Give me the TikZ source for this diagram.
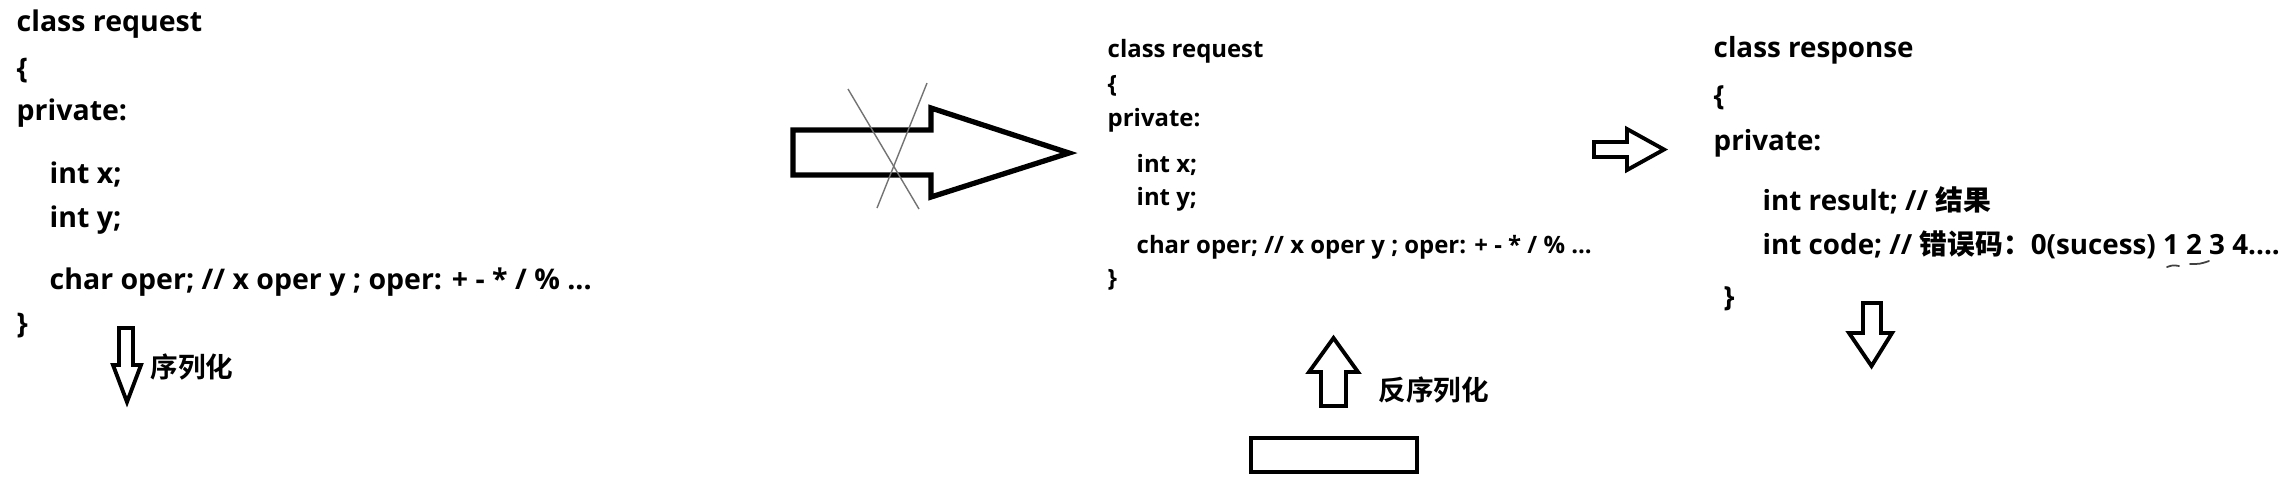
\documentclass[tikz,border=0pt]{standalone}
\usepackage{fontspec}
\setmainfont{Open Sans}
\newfontfamily\cjk{Noto Sans CJK SC Bold}
\tikzset{
  codebig/.style={anchor=base west, inner sep=0pt,
    font=\fontsize{8.1pt}{9pt}\selectfont\bfseries},
  coderight/.style={anchor=base west, inner sep=0pt,
    font=\fontsize{7.9pt}{9pt}\selectfont\bfseries},
  codesmall/.style={anchor=base west, inner sep=0pt,
    font=\fontsize{6.8pt}{8pt}\selectfont\bfseries},
  cnlabel/.style={anchor=west, inner sep=0pt,
    font=\cjk\fontsize{7.85pt}{9pt}\selectfont},
  blockarr/.style={draw=black, line width=1.1pt, line join=miter, fill=white},
  bigarr/.style={draw=black, line width=1.5pt, line join=miter, fill=white},
  strike/.style={draw=black!55, line width=0.4pt},
  scribble/.style={draw=black!75, line width=0.5pt, line cap=round},
}
\begin{document}
\begin{tikzpicture}[x=0.01cm, y=-0.01cm]
  \useasboundingbox (0,0) rectangle (2292,490);
  % request, as written
  \foreach \nm/\xx/\yy/\txt in {
    reqA/16/31/{class request},
    lbrA/16/78/{\{},
    privA/16/120/{private:},
    fxA/49/183/{int x;},
    fyA/49/227/{int y;},
    opA/49/289/{char oper; // x oper y ; oper: + - * / \% ...},
    rbrA/16/333/{\}}}
    \node[codebig] (\nm) at (\xx,\yy) {\txt};
  \draw[blockarr] (119,328) -- (133,328) -- (133,365) -- (141,365)
    -- (127,402) -- (113,365) -- (119,365) -- cycle;
  \node[cnlabel] (ser) at (150,367) {序列化};
  % crossed-out arrow
  \draw[bigarr] (793,130) -- (931,130) -- (931,108) -- (1069,153)
    -- (931,197) -- (931,175) -- (793,175) -- cycle;
  \draw[strike] (848,89) -- (919,209);
  \draw[strike] (927,83) -- (877,208);
  % request, received
  \foreach \nm/\xx/\yy/\txt in {
    reqB/1107/57/{class request},
    lbrB/1107/92/{\{},
    privB/1107/126/{private:},
    fxB/1136/172/{int x;},
    fyB/1136/205/{int y;},
    opB/1136/253/{char oper; // x oper y ; oper: + - * / \% ...},
    rbrB/1107/286/{\}}}
    \node[codesmall] (\nm) at (\xx,\yy) {\txt};
  \draw[blockarr] (1321,406) -- (1346,406) -- (1346,372) -- (1358,372)
    -- (1333.5,338) -- (1309,372) -- (1321,372) -- cycle;
  \node[cnlabel] (deser) at (1378,390) {反序列化};
  \node[draw=black, line width=1.3pt, inner sep=0pt, minimum width=1.66cm,
        minimum height=0.34cm] (buf) at (1334,455) {};
  % response
  \draw[blockarr] (1594,142) -- (1627,142) -- (1627,129) -- (1664,149.5)
    -- (1627,170) -- (1627,157) -- (1594,157) -- cycle;
  \foreach \nm/\xx/\yy/\txt in {
    resC/1713/57/{class response},
    lbrC/1713/105/{\{},
    privC/1713/150/{private:},
    resltC/1762/210/{int result; // {\cjk 结果}},
    codeC/1762/254/{int code; // {\cjk 错误码：}0(sucess) 1 2 3 4....},
    rbrC/1723/306/{\}}}
    \node[coderight] (\nm) at (\xx,\yy) {\txt};
  \draw[scribble] (2167,267) .. controls (2173,265) .. (2179,266);
  \draw[scribble] (2190,264) .. controls (2200,264) .. (2209,261);
  \draw[blockarr] (1863,303) -- (1881,303) -- (1881,333) -- (1892,333)
    -- (1871.5,366) -- (1849,333) -- (1863,333) -- cycle;
\end{tikzpicture}
\end{document}
